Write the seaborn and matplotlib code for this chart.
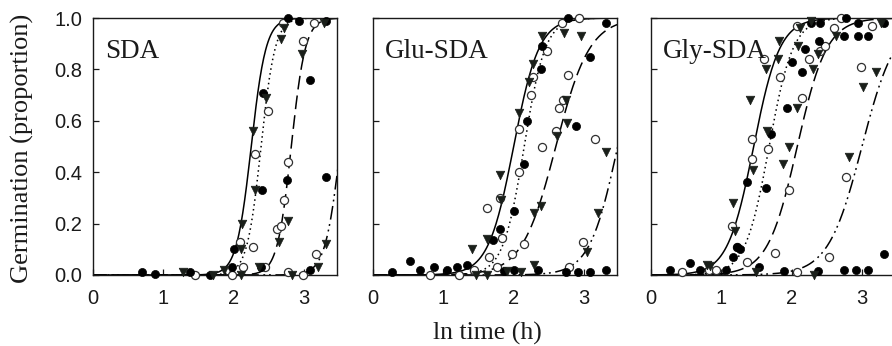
import numpy as np
import pandas as pd
import matplotlib
matplotlib.use("Agg")
import matplotlib.pyplot as plt
import seaborn as sns

# ── panel names and fitted logistic curves (midpoint, scale) ──────────────────
panels = ["SDA", "Glu-SDA", "Gly-SDA"]
curve_styles = ["solid", "dotted", "dash", "dashdotdot"]

sda_mid = [2.25, 2.39, 2.82, 3.52]
sda_scale = [0.105, 0.10, 0.10, 0.11]
glu_mid = [2.00, 2.15, 2.60, 3.48]
glu_scale = [0.18, 0.15, 0.24, 0.20]
gly_mid = [1.46, 1.68, 2.08, 3.00]
gly_scale = [0.185, 0.17, 0.21, 0.24]

# ── observed points ───────────────────────────────────────────────────────────
sda_fill_x = [0.69, 0.88, 1.38, 1.66, 1.97, 2.01, 2.42, 2.41, 2.77, 2.93, 3.08, 2.76,
              3.31, 3.31, 3.08, 2.39]
sda_fill_y = [0.013, 0.003, 0.01, 0.0, 0.03, 0.10, 0.71, 0.33, 1.0, 0.99, 0.76, 0.37,
              0.38, 0.99, 0.02, 0.03]
sda_open_x = [1.45, 1.97, 2.09, 2.13, 2.27, 2.31, 2.49, 2.70, 2.44, 2.61, 2.68, 2.72,
              2.78, 2.98, 3.15, 2.77, 2.98, 3.17]
sda_open_y = [0.0, 0.0, 0.13, 0.03, 0.11, 0.47, 0.64, 0.98, 0.03, 0.18, 0.19, 0.29,
              0.44, 0.91, 0.98, 0.01, 0.0, 0.08]
sda_tri_x = [1.28, 1.71, 1.87, 2.12, 2.11, 2.27, 2.30, 2.46, 2.68, 2.72, 2.11, 2.36,
             2.64, 2.77, 2.97, 2.83, 3.20, 3.32, 3.28]
sda_tri_y = [0.01, 0.0, 0.02, 0.20, 0.10, 0.56, 0.33, 0.69, 0.92, 0.96, 0.0, 0.03,
             0.13, 0.21, 0.86, 0.0, 0.03, 0.12, 0.98]

glu_fill_x = [0.27, 0.53, 0.67, 0.87, 1.05, 1.20, 1.33, 1.71, 1.81, 2.00, 2.15, 2.19,
              2.39, 2.41, 2.78, 2.89, 3.08, 3.31, 1.86, 2.34, 2.74, 2.91, 3.08, 3.31, 2.00]
glu_fill_y = [0.01, 0.055, 0.02, 0.03, 0.02, 0.03, 0.04, 0.135, 0.18, 0.25, 0.43, 0.60,
              0.80, 0.89, 1.0, 0.58, 0.85, 0.98, 0.015, 0.02, 0.01, 0.01, 0.01, 0.02, 0.02]
glu_open_x = [0.81, 1.22, 1.43, 1.62, 1.65, 1.81, 1.84, 1.77, 2.08, 2.08, 2.24, 2.28,
              2.48, 2.41, 1.98, 2.15, 2.60, 2.65, 2.70, 2.78, 2.93, 2.69, 2.98, 3.16, 2.79]
glu_open_y = [0.0, 0.0, 0.02, 0.26, 0.07, 0.30, 0.145, 0.03, 0.40, 0.57, 0.70, 0.77,
              0.87, 0.50, 0.08, 0.12, 0.56, 0.65, 0.68, 0.78, 1.0, 0.98, 0.13, 0.53, 0.03]
glu_tri_x = [1.41, 1.46, 1.62, 1.80, 1.82, 2.07, 2.22, 2.27, 2.41, 2.72, 2.96, 2.74,
             2.62, 2.76, 2.29, 2.39, 3.20, 3.31, 3.04, 2.10, 2.29, 1.91, 1.62]
glu_tri_y = [0.10, 0.0, 0.14, 0.39, 0.29, 0.63, 0.75, 0.82, 0.93, 0.94, 0.93, 0.68,
             0.54, 0.59, 0.24, 0.27, 0.24, 0.48, 0.09, 0.01, 0.04, 0.015, 0.0]

gly_fill_x = [0.27, 0.55, 0.70, 1.06, 1.27, 1.17, 1.37, 1.63, 1.70, 1.94, 2.01, 2.15,
              2.19, 2.39, 2.27, 2.41, 2.77, 2.75, 2.94, 3.08, 2.94, 3.32, 3.32, 1.53,
              1.89, 2.37, 2.75, 2.91, 3.08, 1.22]
gly_fill_y = [0.02, 0.045, 0.02, 0.02, 0.10, 0.07, 0.36, 0.34, 0.55, 0.65, 0.83, 0.79,
              0.88, 0.91, 0.98, 0.98, 1.0, 0.93, 0.93, 0.93, 0.98, 0.98, 0.08, 0.03,
              0.015, 0.015, 0.02, 0.02, 0.02, 0.11]
gly_open_x = [0.44, 0.82, 0.92, 1.15, 1.22, 1.37, 1.44, 1.44, 1.61, 1.67, 1.83, 1.77,
              1.96, 2.07, 2.15, 2.25, 2.40, 2.48, 2.07, 2.53, 2.60, 2.70, 2.78, 2.98, 3.15]
gly_open_y = [0.01, 0.02, 0.02, 0.19, 0.11, 0.05, 0.53, 0.45, 0.84, 0.49, 0.77, 0.085,
              0.33, 0.97, 0.69, 0.84, 0.87, 0.89, 0.01, 0.07, 0.96, 1.0, 0.38, 0.81, 0.97]
gly_tri_x = [0.80, 0.84, 1.17, 1.19, 1.41, 1.45, 1.63, 1.65, 1.80, 1.82, 1.88, 1.96,
             2.08, 2.09, 2.12, 2.30, 2.37, 2.27, 2.63, 2.82, 3.01, 3.20, 1.49, 2.32, 3.27]
gly_tri_y = [0.04, 0.035, 0.28, 0.17, 0.68, 0.41, 0.80, 0.56, 0.84, 0.91, 0.43, 0.50,
             0.65, 0.89, 0.96, 0.80, 0.86, 0.99, 0.93, 0.46, 0.73, 0.79, 0.01, 0.0, 0.98]

y_ticks = [0.0, 0.2, 0.4, 0.6, 0.8, 1.0]
x_ticks = [0, 1, 2, 3]

panel_data = {
    "SDA": (sda_mid, sda_scale, sda_fill_x, sda_fill_y, sda_open_x, sda_open_y,
            sda_tri_x, sda_tri_y),
    "Glu-SDA": (glu_mid, glu_scale, glu_fill_x, glu_fill_y, glu_open_x, glu_open_y,
                glu_tri_x, glu_tri_y),
    "Gly-SDA": (gly_mid, gly_scale, gly_fill_x, gly_fill_y, gly_open_x, gly_open_y,
                gly_tri_x, gly_tri_y),
}

sns.set_style("ticks")
plt.rcParams["font.family"] = ["Liberation Sans", "DejaVu Sans"]
SERIF = ["Liberation Serif", "DejaVu Serif"]

dash_map = {
    "solid": "",
    "dotted": (1, 2.2),
    "dash": (9, 4),
    "dashdotdot": (9, 3, 1.2, 2.5, 1.2, 3),
}

W, H = 892, 346
fig = plt.figure(figsize=(W / 100, H / 100), dpi=100)
lefts = [93, 373, 651]
ax_w, ax_top, ax_bot = 244, 18, 275

t_grid = np.linspace(0, 3.6, 400)

for i, name in enumerate(panels):
    mid, scale, fx, fy, ox, oy, tx, ty = panel_data[name]
    ax = fig.add_axes([lefts[i] / W, 1 - ax_bot / H, ax_w / W, (ax_bot - ax_top) / H])

    # fitted curves
    frames = []
    for style, m, s in zip(curve_styles, mid, scale):
        frames.append(pd.DataFrame({"t": t_grid,
                                    "g": 1 / (1 + np.exp(-(t_grid - m) / s)),
                                    "curve": style}))
    curves = pd.concat(frames, ignore_index=True)
    sns.lineplot(data=curves, x="t", y="g", style="curve", dashes=dash_map,
                 color="black", linewidth=1.1, legend=False, ax=ax, zorder=2)

    # observations
    sns.scatterplot(x=fx, y=fy, marker="o", s=34, color="black", edgecolor="black",
                    linewidth=0.5, ax=ax, zorder=4, clip_on=False)
    sns.scatterplot(x=ox, y=oy, marker="o", s=34, facecolor="white",
                    edgecolor="#303030", linewidth=0.9, ax=ax, zorder=3, clip_on=False)
    sns.scatterplot(x=tx, y=ty, marker="v", s=38, color="#1a1f1a", edgecolor="#1a1f1a",
                    linewidth=0.5, ax=ax, zorder=4, clip_on=False)

    ax.set_xlim(0, 3.47)
    ax.set_ylim(0, 1.0)
    ax.set_xticks(x_ticks)
    ax.set_yticks(y_ticks)
    ax.set_xlabel("")
    ax.set_ylabel("")
    if i == 0:
        ax.set_yticklabels([f"{v:.1f}" for v in y_ticks])
    else:
        ax.set_yticklabels([])
    ax.tick_params(direction="in", length=4, width=0.9, labelsize=14.5,
                   colors="#1a1a1a")
    ax.tick_params(axis="x", pad=10)
    ax.tick_params(axis="y", pad=8)
    for sp in ax.spines.values():
        sp.set_visible(True)
        sp.set_linewidth(1.0)
        sp.set_color("#1a1a1a")
    ax.text(0.05, 0.87, name, transform=ax.transAxes, family=SERIF, fontsize=19.5,
            va="center", ha="left", color="#1a1a1a", zorder=5)

fig.text(22 / W, 1 - 148 / H, "Germination (proportion)", rotation=90, family=SERIF,
         fontsize=19, ha="center", va="center", color="#1a1a1a")
fig.text(487 / W, 1 - 333 / H, "ln time (h)", family=SERIF, fontsize=18.5,
         ha="center", va="center", color="#1a1a1a")

fig.savefig("out.png", dpi=100)
